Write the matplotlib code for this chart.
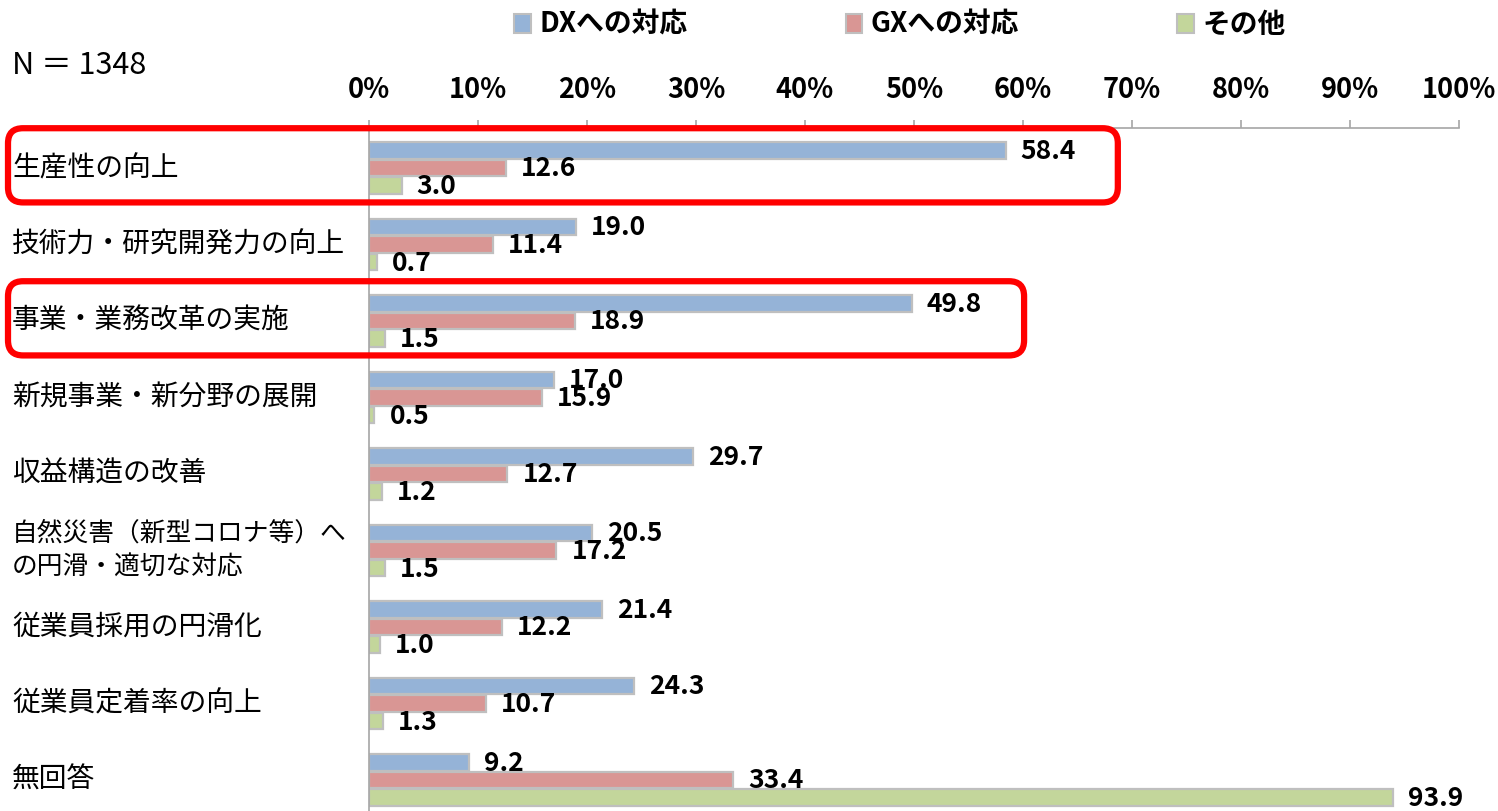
import numpy as np
import matplotlib
matplotlib.use("Agg")
import matplotlib.pyplot as plt
from matplotlib.patches import FancyBboxPatch, Patch
import matplotlib.transforms as mtransforms

plt.rcParams['font.family'] = ['Noto Sans CJK JP', 'DejaVu Sans']

categories = [
    "生産性の向上",
    "技術力・研究開発力の向上",
    "事業・業務改革の実施",
    "新規事業・新分野の展開",
    "収益構造の改善",
    "自然災害（新型コロナ等）へ\nの円滑・適切な対応",
    "従業員採用の円滑化",
    "従業員定着率の向上",
    "無回答",
]
series_names = ["DXへの対応", "GXへの対応", "その他"]
dx_vals = [58.4, 19.0, 49.8, 17.0, 29.7, 20.5, 21.4, 24.3, 9.2]
gx_vals = [12.6, 11.4, 18.9, 15.9, 12.7, 17.2, 12.2, 10.7, 33.4]
other_vals = [3.0, 0.7, 1.5, 0.5, 1.2, 1.5, 1.0, 1.3, 93.9]
highlighted = [0, 2]

colors = ["#95B3D7", "#D99694", "#C3D69B"]
edge = "#BFBFBF"

W, H = 1498, 811
fig = plt.figure(figsize=(W / 100, H / 100), dpi=100)
ax = fig.add_axes([369 / W, 0, 1090 / W, (H - 128) / H])

y = np.arange(len(categories))
bh = 0.215
step = 0.229
for k, vals in enumerate([dx_vals, gx_vals, other_vals]):
    pos = y + (k - 1) * step
    ax.barh(pos, vals, height=bh, color=colors[k], edgecolor=edge, linewidth=1.6)
    for p, v in zip(pos, vals):
        ax.annotate(f"{v:.1f}", (v, p), xytext=(15, -1), textcoords="offset pixels",
                    ha="left", va="center", fontsize=19, fontweight="bold")

ax.set_xlim(0, 100)
ax.set_ylim((H - 168) / 76.5, -(168 - 128) / 76.5)
ax.xaxis.tick_top()
ax.set_xticks(np.arange(0, 101, 10))
ax.set_xticklabels([f"{t}%" for t in range(0, 101, 10)], fontsize=19.5, fontweight="bold")
ax.tick_params(axis="x", direction="out", length=6, width=1.2, color="#A6A6A6", pad=11)
ax.set_yticks([])
for s in ["right", "bottom"]:
    ax.spines[s].set_visible(False)
for s in ["top", "left"]:
    ax.spines[s].set_color("#A6A6A6")
    ax.spines[s].set_linewidth(1.2)

# category labels at the left edge of the figure
lab_tr = mtransforms.blended_transform_factory(fig.transFigure, ax.transData)
for i, c in enumerate(categories):
    size = 18.5 if "\n" in c else 20
    ax.text(12 / W, i, c, transform=lab_tr, ha="left", va="center", fontsize=size,
            linespacing=1.38, clip_on=False)

# rounded red frames around the highlighted groups
inv = fig.dpi_scale_trans.inverted()
for i in highlighted:
    right = max(dx_vals[i], gx_vals[i], other_vals[i]) + 10.3
    x1, y1 = ax.transData.transform((right, i - 0.52))
    y0 = ax.transData.transform((0, i + 0.45))[1]
    (ix0, iy0), (ix1, iy1) = inv.transform([(8, y0), (x1, y1)])
    box = FancyBboxPatch((ix0, iy0), ix1 - ix0, iy1 - iy0,
                         boxstyle="round,pad=0,rounding_size=0.15",
                         transform=fig.dpi_scale_trans, fill=False,
                         edgecolor="#FF0000", linewidth=4.5, zorder=5)
    fig.patches.append(box)

fig.text(12 / W, 1 - 65 / H, "N ＝ 1348", fontsize=22, va="center", ha="left")

handles = [Patch(facecolor=c, edgecolor=edge, linewidth=1.5) for c in colors]
fig.legend(handles, series_names, loc="center", bbox_to_anchor=(900 / W, 1 - 25 / H),
           ncol=3, frameon=False, handlelength=0.6, handleheight=0.7, handletextpad=0.3,
           columnspacing=5.7, prop={"size": 20, "weight": "bold"})

fig.savefig("out.png", dpi=100)
